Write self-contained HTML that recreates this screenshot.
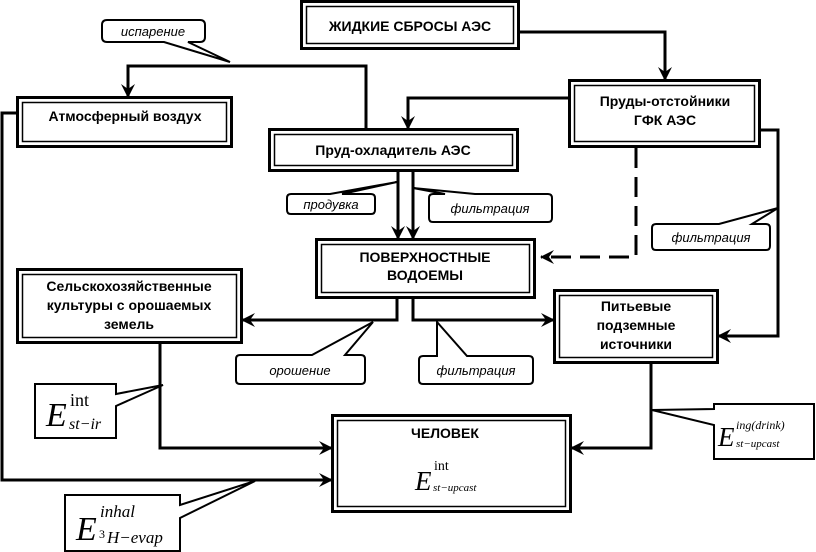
<!DOCTYPE html>
<html><head><meta charset="utf-8"><style>
html,body{margin:0;padding:0;background:#fff;}
svg{display:block;}
.b{font-family:"Liberation Sans",Arial,sans-serif;font-weight:bold;font-size:14px;fill:#000;}
.i{font-family:"Liberation Sans",Arial,sans-serif;font-style:italic;font-size:13px;fill:#000;}
.m{font-family:"Liberation Serif","Times New Roman",serif;font-style:italic;fill:#000;}
.r{font-family:"Liberation Serif","Times New Roman",serif;fill:#000;}
</style></head><body>
<svg width="816" height="552" viewBox="0 0 816 552" xmlns="http://www.w3.org/2000/svg">
<defs>
<marker id="a" markerWidth="14" markerHeight="14" refX="13" refY="7" orient="auto" markerUnits="userSpaceOnUse">
<polygon points="0,0 14,7 0,14 5,7" fill="#000"/>
</marker>
</defs>
<g fill="none" stroke="#000">
<rect x="301.5" y="1.5" width="217" height="47" stroke-width="3"/><rect x="306.5" y="6.5" width="207" height="37" stroke-width="1.5"/>
<rect x="17.5" y="97.5" width="214" height="49" stroke-width="3"/><rect x="22.5" y="102.5" width="204" height="39" stroke-width="1.5"/>
<rect x="269.5" y="129.5" width="248" height="41" stroke-width="3"/><rect x="274.5" y="134.5" width="238" height="31" stroke-width="1.5"/>
<rect x="569.5" y="80.5" width="190" height="66" stroke-width="3"/><rect x="574.5" y="85.5" width="180" height="56" stroke-width="1.5"/>
<rect x="316.5" y="239.5" width="218" height="58" stroke-width="3"/><rect x="321.5" y="244.5" width="208" height="48" stroke-width="1.5"/>
<rect x="17.5" y="269.5" width="224" height="73" stroke-width="3"/><rect x="22.5" y="274.5" width="214" height="63" stroke-width="1.5"/>
<rect x="554.5" y="290.5" width="163" height="72" stroke-width="3"/><rect x="559.5" y="295.5" width="153" height="62" stroke-width="1.5"/>
<rect x="332.5" y="415.5" width="238" height="96" stroke-width="3"/><rect x="337.5" y="420.5" width="228" height="86" stroke-width="1.5"/>

<g stroke-width="3">
<polyline points="519,32 665,32 665,80" marker-end="url(#a)"/>
<polyline points="569,98 408,98 408,129" marker-end="url(#a)"/>
<polyline points="366,128 366,66 128,66 128,97" marker-end="url(#a)"/>
<line x1="398" y1="171" x2="398" y2="239" marker-end="url(#a)"/>
<line x1="413" y1="171" x2="413" y2="239" marker-end="url(#a)"/>
<polyline points="760,130 778,130 778,336 718,336" marker-end="url(#a)"/>
<polyline points="397,298 397,320 242,320" marker-end="url(#a)"/>
<polyline points="413,298 413,320 554,320" marker-end="url(#a)"/>
<polyline points="160,343 160,448 332,448" marker-end="url(#a)"/>
<polyline points="17,113 2,113 2,480 332,480" marker-end="url(#a)"/>
<polyline points="651,363 651,448 571,448" marker-end="url(#a)"/>
<polyline points="636,148 636,257 541,257" stroke-dasharray="20,9" marker-end="url(#a)"/>
</g>

<g stroke-width="2">
<path d="M107,20 H200 Q205,20 205,25 V37 Q205,42 200,42 H188 L230,62 L164,42 H107 Q102,42 102,37 V25 Q102,20 107,20 Z" fill="#fff"/>
<path d="M291,194 H330 L397,182 L342,194 H371 Q375,194 375,198 V210 Q375,214 371,214 H291 Q287,214 287,210 V198 Q287,194 291,194 Z" fill="#fff"/>
<path d="M433,194 H445 L413,188 L475,194 H548 Q552,194 552,198 V218 Q552,222 548,222 H433 Q429,222 429,218 V198 Q429,194 433,194 Z" fill="#fff"/>
<path d="M656,224 H719 L778,208 L752,224 H766 Q770,224 770,228 V246 Q770,250 766,250 H656 Q652,250 652,246 V228 Q652,224 656,224 Z" fill="#fff"/>
<path d="M240,355 H312 L373,322 L345,355 H361 Q365,355 365,359 V380 Q365,384 361,384 H240 Q236,384 236,380 V359 Q236,355 240,355 Z" fill="#fff"/>
<path d="M423,356 H437 V322 L467,356 H529 Q533,356 533,360 V380 Q533,384 529,384 H423 Q419,384 419,380 V360 Q419,356 423,356 Z" fill="#fff"/>
<path d="M35,384 H116 V394 L163,385 L116,406 V438 H35 Z" fill="#fff"/>
<path d="M65,495 H180 V505 L255,481 L180,518 V551 H65 Z" fill="#fff"/>
<path d="M714,404 V409 L652,410 L714,425 V459 H814 V404 Z" fill="#fff"/>
</g>
</g>

<text class="b" x="410" y="31" text-anchor="middle" font-size="13">ЖИДКИЕ СБРОСЫ АЭС</text>
<text class="b" x="125" y="121" text-anchor="middle" font-size="15">Атмосферный воздух</text>
<text class="b" x="393" y="155" text-anchor="middle" font-size="15">Пруд-охладитель АЭС</text>
<text class="b" x="665" y="106" text-anchor="middle" font-size="15">Пруды-отстойники</text>
<text class="b" x="665" y="125" text-anchor="middle" font-size="15">ГФК АЭС</text>
<text class="b" x="425" y="262" text-anchor="middle" font-size="13">ПОВЕРХНОСТНЫЕ</text>
<text class="b" x="425" y="280" text-anchor="middle" font-size="13">ВОДОЕМЫ</text>
<text class="b" x="129" y="291" text-anchor="middle">Сельскохозяйственные</text>
<text class="b" x="129" y="310" text-anchor="middle">культуры с орошаемых</text>
<text class="b" x="129" y="329" text-anchor="middle">земель</text>
<text class="b" x="636" y="311" text-anchor="middle">Питьевые</text>
<text class="b" x="636" y="330" text-anchor="middle">подземные</text>
<text class="b" x="636" y="349" text-anchor="middle">источники</text>
<text class="b" x="445" y="438" text-anchor="middle" font-size="13">ЧЕЛОВЕК</text>

<text class="i" x="153" y="36" text-anchor="middle">испарение</text>
<text class="i" x="331" y="209" text-anchor="middle">продувка</text>
<text class="i" x="490" y="213" text-anchor="middle">фильтрация</text>
<text class="i" x="711" y="242" text-anchor="middle">фильтрация</text>
<text class="i" x="300" y="375" text-anchor="middle">орошение</text>
<text class="i" x="476" y="375" text-anchor="middle">фильтрация</text>

<text class="m" x="46" y="426" font-size="34">E</text>
<text class="r" x="70" y="406" font-size="18">int</text>
<text class="m" x="69" y="429" font-size="16">st−ir</text>

<text class="m" x="76" y="540" font-size="34">E</text>
<text class="m" x="100" y="517" font-size="17">inhal</text>
<text class="r" x="99" y="538" font-size="12">3</text>
<text class="m" x="107" y="543" font-size="17">H−evap</text>

<text class="m" x="718" y="446" font-size="27">E</text>
<text class="m" x="736" y="429" font-size="12">ing(drink)</text>
<text class="m" x="736" y="447" font-size="11">st−upcast</text>

<text class="m" x="415" y="490" font-size="27">E</text>
<text class="r" x="434" y="470" font-size="14">int</text>
<text class="m" x="433" y="491" font-size="11">st−upcast</text>
</svg>
</body></html>
